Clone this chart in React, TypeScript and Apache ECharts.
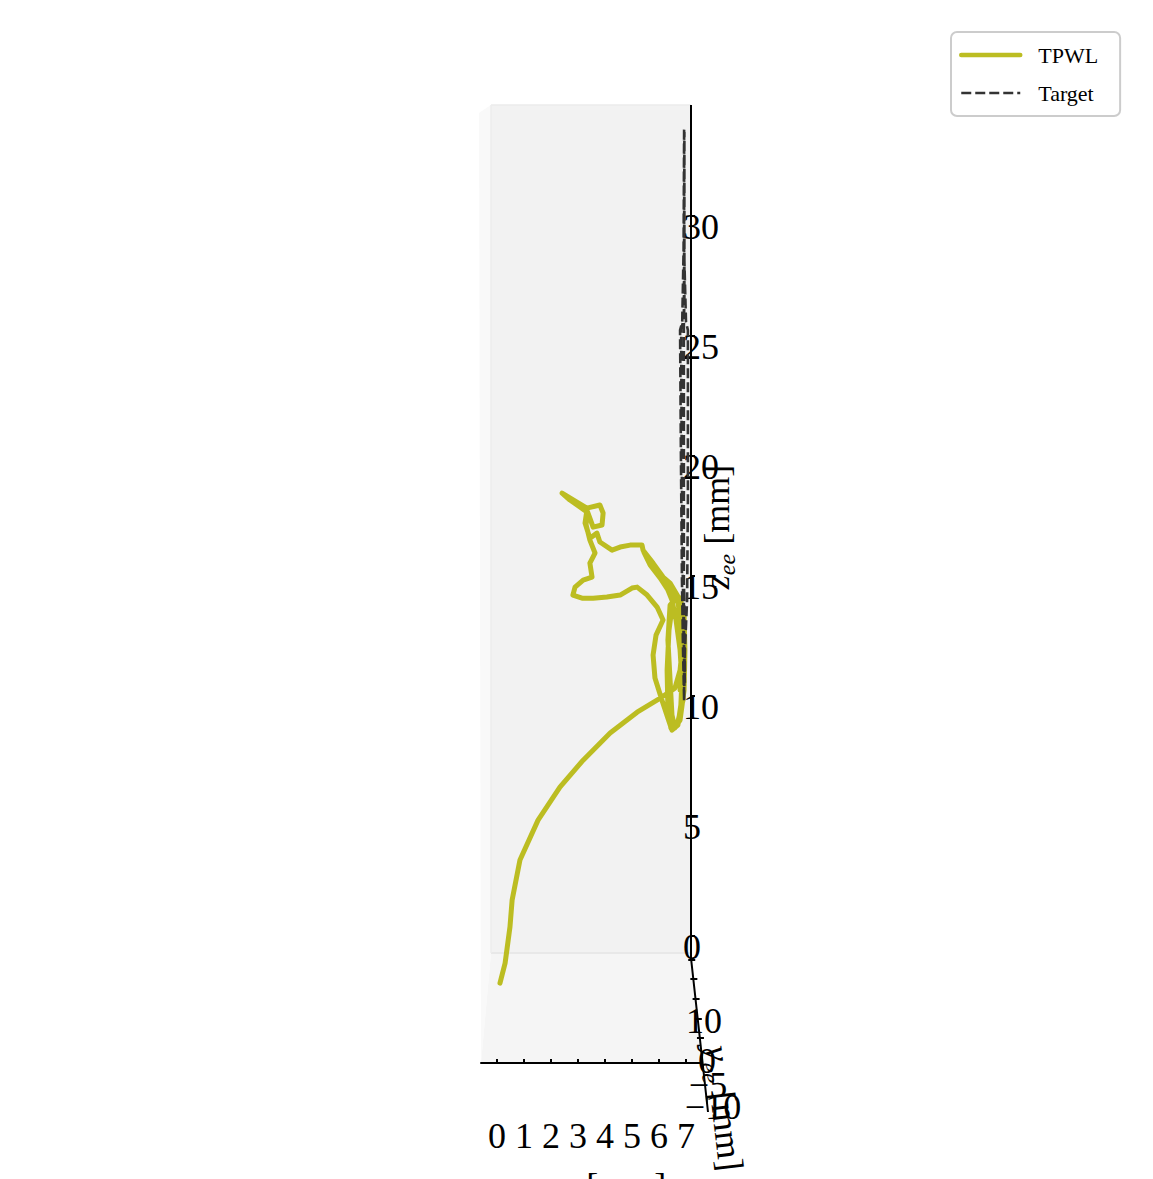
import React, { useEffect, useRef } from "react";
import * as echarts from "echarts";

// TPWL trajectory (x_ee, z_ee) in mm, projected view
const tpwlX = [
  0.11, 0.30, 0.48, 0.56, 0.85, 1.52, 2.33, 3.19, 4.19, 5.19, 6.11, 6.59,
  6.78, 6.89, 6.81, 6.63, 6.41, 6.33, 6.41, 6.48, 6.59, 6.78, 6.93, 6.96, 6.93, 6.78, 6.52, 6.37, 6.30, 6.33, 6.44, 6.67, 6.89, 6.93, 6.89, 6.78,
  6.41, 6.15, 5.78, 5.41,
  5.37, 4.93, 4.56, 4.26, 3.81, 3.70, 3.44, 3.26, 3.33, 3.56, 3.89, 3.93, 3.81, 3.33, 2.96, 2.41, 2.70, 3.07, 3.33, 3.30, 3.44, 3.63, 3.44, 3.52, 3.19, 2.89, 2.81, 3.15, 3.56, 4.07, 4.56, 5.00, 5.19, 5.56, 5.93, 6.15,
  5.89, 5.78, 5.85, 6.11, 6.33, 6.48, 6.70, 6.81, 6.85, 6.78, 6.63, 6.48, 6.33, 6.04, 5.67, 5.44,
  5.85, 6.33, 6.70, 6.85, 6.78,
];
const tpwlZ = [
  -1.96, -1.13, 0.38, 1.50, 3.17, 4.83, 6.21, 7.33, 8.46, 9.33, 9.96, 10.33,
  11.08, 12.33, 13.58, 14.08, 13.79, 12.33, 10.67, 9.21, 8.67, 9.00, 10.25, 11.92, 13.38, 14.08, 14.00, 12.75, 11.08, 9.42, 8.67, 8.79, 9.83, 11.50, 12.96, 14.00,
  14.71, 14.96, 15.54, 16.08,
  16.29, 16.29, 16.21, 16.08, 16.42, 16.79, 16.58, 17.21, 17.75, 17.04, 17.13, 17.63, 17.96, 17.83, 18.08, 18.46, 18.17, 17.88, 17.67, 17.13, 16.50, 15.96, 15.54, 14.96, 14.83, 14.54, 14.21, 14.08, 14.08, 14.13, 14.21, 14.50, 14.54, 14.21, 13.71, 13.17,
  12.54, 11.71, 10.75, 9.83, 9.08, 8.58, 8.79, 9.63, 10.67, 11.92, 13.17, 14.00, 14.42, 14.92, 15.46, 16.00,
  15.33, 14.63, 14.00, 12.33, 10.25,
];

// Target trajectory (x_ee, z_ee) in mm — several overlapping passes
const targetX = [
  6.93, 6.96, 7.04, 7.07, 7.07, 7.07, 7.0, 6.93, 6.93,
  6.91, 6.91, 6.86, 6.78, 6.81, 6.85, 6.89, 6.93,
  6.92, 6.92, 6.94, 6.94, 6.92, 6.82, 6.84, 6.88, 6.92, 6.96, 6.93, 6.90, 6.96,
];
const targetZ = [
  9.83, 11.92, 14.0, 18.17, 22.33, 25.25, 25.58, 28.58, 33.67,
  33.67, 28.58, 25.58, 25.25, 20.25, 14.83, 11.92, 9.83,
  14.0, 25.4, 26.5, 33.5, 25.7, 25.3, 20.0, 15.0, 12.5, 11.0, 14.5, 13.0, 10.5,
];

const xTicks = [0, 1, 2, 3, 4, 5, 6, 7];
const zTicks = [0, 5, 10, 15, 20, 25, 30];
const depthLabels = ["10", "0", "\u22125", "\u221210"];

const SERIF = "'Liberation Serif', 'DejaVu Serif', serif";

export default function App() {
  const ref = useRef<HTMLDivElement>(null);
  useEffect(() => {
    if (!ref.current) return;
    const chart = echarts.init(ref.current, null, { renderer: "svg" });
    const tpwl = tpwlX.map((x, i) => [x, tpwlZ[i]]);
    const target = targetX.map((x, i) => [x, targetZ[i]]);
    const depthPos = [
      [704, 1021],
      [707, 1061],
      [708, 1085],
      [713, 1107],
    ];
    const richBase = {
      m: { fontFamily: SERIF, fontSize: 36, lineHeight: 44, fill: "#000" },
      i: { fontFamily: SERIF, fontSize: 36, lineHeight: 44, fontStyle: "italic", fill: "#000" },
      s: { fontFamily: SERIF, fontSize: 24, lineHeight: 24, fontStyle: "italic", verticalAlign: "bottom", fill: "#000" },
    };
    chart.setOption({
      animation: false,
      backgroundColor: "#ffffff",
      grid: { left: 481, top: 105, width: 210, height: 958 },
      legend: {
        data: [
          { name: "TPWL", lineStyle: { width: 4.5, color: "#bcbd22" } },
          { name: "Target", lineStyle: { width: 2.6, color: "#333333", type: [10, 4] } },
        ],
        left: 951,
        top: 32,
        orient: "vertical",
        itemWidth: 59,
        itemHeight: 12,
        itemGap: 14,
        padding: [11, 22, 11, 8],
        borderColor: "#cccccc",
        borderWidth: 2,
        borderRadius: 6,
        backgroundColor: "#ffffff",
        itemStyle: { opacity: 0 },
        textStyle: { fontFamily: SERIF, fontSize: 22, color: "#000", lineHeight: 24, padding: [0, 0, 0, 13] },
      },
      xAxis: {
        type: "value",
        min: -0.593,
        max: 7.185,
        axisLine: { onZero: false, lineStyle: { color: "#000", width: 2 } },
        axisTick: { customValues: xTicks, inside: true, length: 4, lineStyle: { color: "#000", width: 2 } },
        axisLabel: { customValues: xTicks, margin: 55, fontFamily: SERIF, fontSize: 36, color: "#000" },
        splitLine: { show: false },
      },
      yAxis: {
        type: "value",
        position: "right",
        min: -5.29,
        max: 34.63,
        axisLine: { show: false, onZero: false },
        axisTick: { customValues: zTicks, length: 4, lineStyle: { color: "#000", width: 2 } },
        axisLabel: {
          customValues: zTicks,
          margin: -8,
          fontFamily: SERIF,
          fontSize: 36,
          lineHeight: 22,
          color: "#000",
          verticalAlign: "top",
        },
        splitLine: { show: false },
      },
      graphic: [
        // panes
        { type: "polygon", z: -10, shape: { points: [[479, 113], [491, 105], [491, 953], [481, 1063]] }, style: { fill: "#f9f9f9" } },
        { type: "rect", z: -10, shape: { x: 491, y: 105, width: 200, height: 848 }, style: { fill: "#f2f2f2" } },
        { type: "polygon", z: -10, shape: { points: [[491, 953], [691, 953], [703, 1063], [481, 1063]] }, style: { fill: "#f5f5f5" } },
        { type: "line", z: -9, shape: { x1: 491, y1: 953, x2: 691, y2: 953 }, style: { stroke: "#e8e8e8", lineWidth: 2 } },
        { type: "line", z: -9, shape: { x1: 491, y1: 105, x2: 691, y2: 105 }, style: { stroke: "#ebebeb", lineWidth: 1.5 } },
        { type: "line", z: -9, shape: { x1: 491, y1: 105, x2: 491, y2: 953 }, style: { stroke: "#ededed", lineWidth: 1.5 } },
        // z axis line with slanted depth axis
        { type: "polyline", z: 5, shape: { points: [[691, 105], [691, 958], [708, 1112]] }, style: { stroke: "#000", lineWidth: 2, fill: null } },
        { type: "line", z: 5, shape: { x1: 690, y1: 1063, x2: 703, y2: 1063 }, style: { stroke: "#000", lineWidth: 2 } },
        ...[960, 979, 999, 1019, 1038].map((y) => {
          const x = 691 + (y - 958) * 0.112;
          return { type: "line", z: 5, shape: { x1: x - 3, y1: y, x2: x + 4, y2: y }, style: { stroke: "#000", lineWidth: 2 } };
        }),
        ...depthLabels.map((t, i) => ({
          type: "text",
          z: 6,
          x: depthPos[i][0],
          y: depthPos[i][1],
          style: { text: t, fontFamily: SERIF, fontSize: 36, fill: "#000", align: "center", verticalAlign: "middle" },
        })),
        // axis names
        {
          type: "text",
          z: 6,
          x: 717,
          y: 527,
          rotation: Math.PI / 2,
          style: { text: "{i|z}{s|ee}{m| [mm]}", rich: richBase, align: "center", verticalAlign: "middle" },
        },
        {
          type: "text",
          z: 6,
          x: 724,
          y: 1108,
          rotation: -1.456,
          style: { text: "{i|y}{s|ee}{m| [mm]}", rich: richBase, align: "center", verticalAlign: "middle" },
        },
        {
          type: "text",
          z: 6,
          x: 603,
          y: 1164,
          style: { text: "{i|x}{s|ee}{m| [mm]}", rich: richBase, align: "center", verticalAlign: "top" },
        },
      ],
      series: [
        {
          name: "TPWL",
          type: "line",
          data: tpwl,
          symbol: "none",
          showSymbol: false,
          z: 3,
          lineStyle: { color: "#bcbd22", width: 5, cap: "round", join: "round" },
          itemStyle: { color: "#bcbd22" },
        },
        {
          name: "Target",
          type: "line",
          data: target,
          symbol: "none",
          showSymbol: false,
          z: 4,
          lineStyle: { color: "#333333", width: 2.6, type: [10, 4] },
          itemStyle: { color: "#333333" },
        },
      ],
    });
    return () => chart.dispose();
  }, []);
  return <div ref={ref} style={{ position: "absolute", left: 0, top: 0, width: 1153, height: 1179 }} />;
}
